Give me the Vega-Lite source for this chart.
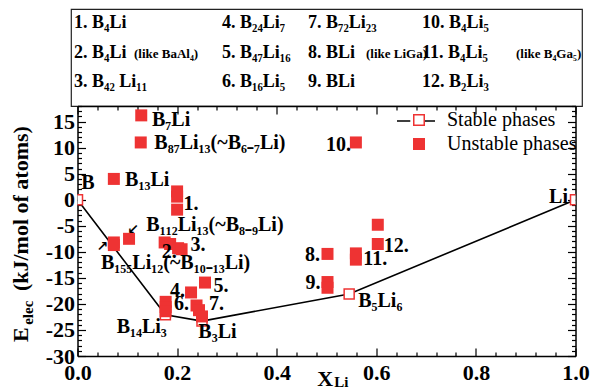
{
  "$schema": "https://vega.github.io/schema/vega-lite/v6.json",
  "padding": {"left": 10, "top": 8, "right": 5, "bottom": 0},
  "background": "white",
  "config": {"font": "Liberation Serif"},
  "datasets": {
    "stable": [
      {"x": 0, "y": 0, "name": "B"},
      {"x": 0.1765, "y": -22.1, "name": "B14Li3"},
      {"x": 0.25, "y": -23.3, "name": "B3Li"},
      {"x": 0.5455, "y": -18.1, "name": "B5Li6"},
      {"x": 1, "y": 0, "name": "Li"}
    ],
    "unstable": [
      {"x": 0.128, "y": 16.2, "id": "B7Li"},
      {"x": 0.127, "y": 11.0, "id": "B87Li13"},
      {"x": 0.073, "y": 4.0, "id": "B13Li"},
      {"x": 0.2, "y": 1.6, "id": "1"},
      {"x": 0.2, "y": 0.6, "id": "1"},
      {"x": 0.2, "y": -1.9, "id": "1"},
      {"x": 0.1035, "y": -7.5, "id": "B112Li13"},
      {"x": 0.073, "y": -8.2, "id": "B155Li12"},
      {"x": 0.073, "y": -8.7, "id": "B155Li12"},
      {"x": 0.175, "y": -8.2, "id": "2"},
      {"x": 0.186, "y": -8.5, "id": "2"},
      {"x": 0.202, "y": -9.3, "id": "3"},
      {"x": 0.209, "y": -9.5, "id": "3"},
      {"x": 0.177, "y": -19.6, "id": "B14Li3"},
      {"x": 0.177, "y": -20.6, "id": "B14Li3"},
      {"x": 0.177, "y": -21.4, "id": "B14Li3"},
      {"x": 0.228, "y": -17.8, "id": "4"},
      {"x": 0.256, "y": -15.9, "id": "5"},
      {"x": 0.239, "y": -20.3, "id": "6"},
      {"x": 0.244, "y": -21.2, "id": "7"},
      {"x": 0.25, "y": -22.4, "id": "B3Li"},
      {"x": 0.502, "y": -10.4, "id": "8"},
      {"x": 0.502, "y": -15.8, "id": "9"},
      {"x": 0.502, "y": -16.9, "id": "9"},
      {"x": 0.559, "y": 11.0, "id": "10"},
      {"x": 0.559, "y": -10.3, "id": "11"},
      {"x": 0.559, "y": -11.5, "id": "11"},
      {"x": 0.603, "y": -4.8, "id": "12"},
      {"x": 0.603, "y": -8.5, "id": "12"}
    ],
    "labels": [
      {"t": "B", "x": 0.021, "y": 3.3},
      {"t": "B₇Li", "x": 0.188, "y": 15.4},
      {"t": "B₈₇Li₁₃(~B₆₋₇Li)", "x": 0.286, "y": 10.9},
      {"t": "B₁₃Li", "x": 0.14, "y": 3.85},
      {"t": "1.", "x": 0.228, "y": -0.8},
      {"t": "B₁₁₂Li₁₃(~B₈₋₉Li)", "x": 0.276, "y": -4.8},
      {"t": "2.", "x": 0.184, "y": -10.0},
      {"t": "3.", "x": 0.242, "y": -8.65},
      {"t": "B₁₅₅Li₁₂(~B₁₀₋₁₃Li)", "x": 0.197, "y": -12.2},
      {"t": "4.", "x": 0.2006, "y": -17.5},
      {"t": "5.", "x": 0.288, "y": -16.5},
      {"t": "6.", "x": 0.209, "y": -20.0},
      {"t": "7.", "x": 0.279, "y": -20.0},
      {"t": "B₁₄Li₃", "x": 0.129, "y": -24.4},
      {"t": "B₃Li", "x": 0.281, "y": -25.4},
      {"t": "8.", "x": 0.472, "y": -10.6},
      {"t": "9.", "x": 0.473, "y": -15.9},
      {"t": "10.", "x": 0.524, "y": 10.6},
      {"t": "11.", "x": 0.598, "y": -11.4},
      {"t": "12.", "x": 0.64, "y": -8.85},
      {"t": "B₅Li₆", "x": 0.608, "y": -19.4},
      {"t": "Li", "x": 0.966, "y": 0.45}
    ],
    "arrows": [
      {"t": "↙", "x": 0.1116, "y": -5.8},
      {"t": "↗", "x": 0.05, "y": -9.0}
    ],
    "titles": [
      {"t": "(kJ/mol of atoms)", "x": -0.1126, "y": -1.7, "kind": "ymain"},
      {"t": "E", "x": -0.1126, "y": -25.9, "kind": "ymain"},
      {"t": "elec", "x": -0.0995, "y": -21.7, "kind": "ysub"},
      {"t": "X", "x": 0.4975, "y": -34.4, "kind": "xmain"},
      {"t": "Li", "x": 0.5296, "y": -35.0, "kind": "xsub"}
    ],
    "box": [
      {"slot": 0, "row": 1, "t": "1. B₄Li", "kind": "main"},
      {"slot": 0, "row": 2, "t": "2. B₄Li", "kind": "main"},
      {"slot": 1, "row": 2, "t": "(like BaAl₄)", "kind": "note"},
      {"slot": 0, "row": 3, "t": "3. B₄₂ Li₁₁", "kind": "main"},
      {"slot": 2, "row": 1, "t": "4. B₂₄Li₇", "kind": "main"},
      {"slot": 2, "row": 2, "t": "5. B₄₇Li₁₆", "kind": "main"},
      {"slot": 2, "row": 3, "t": "6. B₁₆Li₅", "kind": "main"},
      {"slot": 3, "row": 1, "t": "7. B₇₂Li₂₃", "kind": "main"},
      {"slot": 3, "row": 2, "t": "8. BLi", "kind": "main"},
      {"slot": 4, "row": 2, "t": "(like LiGa)", "kind": "note"},
      {"slot": 3, "row": 3, "t": "9. BLi", "kind": "main"},
      {"slot": 5, "row": 1, "t": "10. B₄Li₅", "kind": "main"},
      {"slot": 5, "row": 2, "t": "11. B₄Li₅", "kind": "main"},
      {"slot": 6, "row": 2, "t": "(like B₄Ga₅)", "kind": "note"},
      {"slot": 5, "row": 3, "t": "12. B₂Li₃", "kind": "main"}
    ]
  },
  "vconcat": [
    {
      "width": 511,
      "height": 97,
      "view": {"stroke": "#222", "strokeWidth": 1.2},
      "data": {"name": "box"},
      "encoding": {
        "x": {"field": "slot", "type": "quantitative", "scale": {"domain": [0, 1, 2, 3, 4, 5, 6], "range": [3, 63, 151, 237, 295, 351, 445]}, "axis": null},
        "y": {"field": "row", "type": "ordinal", "scale": {"type": "point", "padding": 0.64}, "axis": null},
        "text": {"field": "t"}
      },
      "layer": [
        {"transform": [{"filter": "datum.kind === 'main'"}], "mark": {"type": "text", "align": "left", "baseline": "alphabetic", "fontSize": 18, "fontWeight": "bold", "color": "black", "font": "Liberation Serif"}},
        {"transform": [{"filter": "datum.kind === 'note'"}], "mark": {"type": "text", "align": "left", "baseline": "alphabetic", "fontSize": 13, "fontWeight": "bold", "color": "black", "font": "Liberation Serif"}}
      ]
    },
    {
      "width": 498,
      "height": 250,
      "view": {"stroke": null},
      "layer": [
        {
          "data": {"name": "stable"},
          "mark": {"type": "line", "strokeWidth": 1.6},
          "encoding": {
            "x": {"field": "x", "type": "quantitative", "scale": {"domain": [0, 1], "nice": false, "zero": false},
              "axis": {"orient": "bottom", "title": null, "grid": false, "ticks": false,
                "values": [0, 0.2, 0.4, 0.6, 0.8, 1],
                "format": ".1f",
                "domainColor": "black", "domainWidth": 1.5,
                "labelFont": "Liberation Serif", "labelFontSize": 22, "labelFontWeight": "bold", "labelColor": "black",
                "labelPadding": 6, "labelOverlap": false, "labelFlush": false, "labelBound": false}},
            "y": {"field": "y", "type": "quantitative", "scale": {"domain": [-30, 18], "nice": false, "zero": false},
              "axis": {"orient": "left", "title": null, "grid": false, "ticks": false,
                "values": [-30, -25, -20, -15, -10, -5, 0, 5, 10, 15],
                "labelExpr": "'' + datum.value",
                "domainColor": "black", "domainWidth": 1.5,
                "labelFont": "Liberation Serif", "labelFontSize": 22, "labelFontWeight": "bold", "labelColor": "black",
                "labelPadding": 3, "labelOverlap": false, "labelBound": false}},
            "stroke": {"datum": "Stable phases", "scale": {"range": ["black"]},
              "legend": {"orient": "none", "legendX": 325, "legendY": 92, "title": null, "padding": 0,
                "symbolType": "M-1,0H-0.3M0.3,0H1", "symbolSize": 1444, "symbolStrokeWidth": 1.5, "symbolStrokeColor": "black",
                "labelExpr": "''", "labelFontSize": 1}}
          }
        },
        {
          "data": {"name": "stable"},
          "mark": {"type": "point", "shape": "square", "filled": true, "size": 100, "stroke": "#EE3333", "strokeWidth": 1.5, "opacity": 1, "clip": true},
          "encoding": {
            "x": {"field": "x", "type": "quantitative",
              "axis": {"orient": "bottom", "title": null, "grid": false, "labels": false, "domain": false,
                "values": [0, 0.04, 0.08, 0.12, 0.16, 0.2, 0.24, 0.28, 0.32, 0.36, 0.4, 0.44, 0.48, 0.52, 0.56, 0.6, 0.64, 0.68, 0.72, 0.76, 0.8, 0.84, 0.88, 0.92, 0.96, 1],
                "tickSize": {"condition": {"test": "abs(datum.value*5-round(datum.value*5)) < 0.001", "value": -8}, "value": -4},
                "tickColor": "black", "tickWidth": 1.2}},
            "y": {"field": "y", "type": "quantitative",
              "axis": {"orient": "left", "title": null, "grid": false, "labels": false, "domain": false,
                "values": [-30, -29, -28, -27, -26, -25, -24, -23, -22, -21, -20, -19, -18, -17, -16, -15, -14, -13, -12, -11, -10, -9, -8, -7, -6, -5, -4, -3, -2, -1, 0, 1, 2, 3, 4, 5, 6, 7, 8, 9, 10, 11, 12, 13, 14, 15, 16, 17, 18],
                "tickSize": {"condition": {"test": "datum.value % 5 === 0", "value": -8}, "value": -4},
                "tickColor": "black", "tickWidth": 1.2}},
            "fill": {"datum": "Stable phases", "scale": {"domain": ["Stable phases", "Unstable phases"], "range": ["white", "#EE3333"]},
              "legend": {"orient": "none", "legendX": 338, "legendY": 101, "title": null, "padding": 0,
                "symbolType": "square", "symbolSize": 110, "symbolStrokeColor": "#EE3333", "symbolStrokeWidth": 1.5,
                "labelFont": "Liberation Serif", "labelFontSize": 20, "labelColor": "black", "labelOffset": 18, "rowPadding": 4}}
          }
        },
        {
          "data": {"name": "unstable"},
          "mark": {"type": "point", "shape": "square", "filled": true, "size": 144, "strokeWidth": 0, "opacity": 1},
          "encoding": {
            "x": {"field": "x", "type": "quantitative",
              "axis": {"orient": "top", "title": null, "grid": false, "labels": false,
                "values": [0, 0.04, 0.08, 0.12, 0.16, 0.2, 0.24, 0.28, 0.32, 0.36, 0.4, 0.44, 0.48, 0.52, 0.56, 0.6, 0.64, 0.68, 0.72, 0.76, 0.8, 0.84, 0.88, 0.92, 0.96, 1],
                "tickSize": {"condition": {"test": "abs(datum.value*5-round(datum.value*5)) < 0.001", "value": -8}, "value": -4},
                "tickColor": "black", "tickWidth": 1.2, "domainColor": "black", "domainWidth": 1.5}},
            "y": {"field": "y", "type": "quantitative",
              "axis": {"orient": "right", "title": null, "grid": false, "labels": false,
                "values": [-30, -29, -28, -27, -26, -25, -24, -23, -22, -21, -20, -19, -18, -17, -16, -15, -14, -13, -12, -11, -10, -9, -8, -7, -6, -5, -4, -3, -2, -1, 0, 1, 2, 3, 4, 5, 6, 7, 8, 9, 10, 11, 12, 13, 14, 15, 16, 17, 18],
                "tickSize": {"condition": {"test": "datum.value % 5 === 0", "value": -8}, "value": -4},
                "tickColor": "black", "tickWidth": 1.2, "domainColor": "black", "domainWidth": 1.5}},
            "fill": {"datum": "Unstable phases"}
          }
        },
        {
          "data": {"name": "labels"},
          "mark": {"type": "text", "align": "center", "baseline": "middle", "fontSize": 20, "fontWeight": "bold", "color": "black", "font": "Liberation Serif"},
          "encoding": {
            "x": {"field": "x", "type": "quantitative", "axis": null},
            "y": {"field": "y", "type": "quantitative", "axis": null},
            "text": {"field": "t"}
          }
        },
        {
          "data": {"name": "arrows"},
          "mark": {"type": "text", "align": "center", "baseline": "middle", "fontSize": 14, "fontWeight": "bold", "color": "black", "font": "DejaVu Sans"},
          "encoding": {
            "x": {"field": "x", "type": "quantitative", "axis": null},
            "y": {"field": "y", "type": "quantitative", "axis": null},
            "text": {"field": "t"}
          }
        },
        {
          "data": {"name": "titles"},
          "transform": [{"filter": "datum.kind === 'ymain'"}],
          "mark": {"type": "text", "align": "center", "baseline": "middle", "angle": 270, "fontSize": 22, "fontWeight": "bold", "color": "black", "font": "Liberation Serif"},
          "encoding": {
            "x": {"field": "x", "type": "quantitative", "axis": null},
            "y": {"field": "y", "type": "quantitative", "axis": null},
            "text": {"field": "t"}
          }
        },
        {
          "data": {"name": "titles"},
          "transform": [{"filter": "datum.kind === 'ysub'"}],
          "mark": {"type": "text", "align": "center", "baseline": "middle", "angle": 270, "fontSize": 15, "fontWeight": "bold", "color": "black", "font": "Liberation Serif"},
          "encoding": {
            "x": {"field": "x", "type": "quantitative", "axis": null},
            "y": {"field": "y", "type": "quantitative", "axis": null},
            "text": {"field": "t"}
          }
        },
        {
          "data": {"name": "titles"},
          "transform": [{"filter": "datum.kind === 'xmain'"}],
          "mark": {"type": "text", "align": "center", "baseline": "middle", "fontSize": 22, "fontWeight": "bold", "color": "black", "font": "Liberation Serif"},
          "encoding": {
            "x": {"field": "x", "type": "quantitative", "axis": null},
            "y": {"field": "y", "type": "quantitative", "axis": null},
            "text": {"field": "t"}
          }
        },
        {
          "data": {"name": "titles"},
          "transform": [{"filter": "datum.kind === 'xsub'"}],
          "mark": {"type": "text", "align": "center", "baseline": "middle", "fontSize": 15, "fontWeight": "bold", "color": "black", "font": "Liberation Serif"},
          "encoding": {
            "x": {"field": "x", "type": "quantitative", "axis": null},
            "y": {"field": "y", "type": "quantitative", "axis": null},
            "text": {"field": "t"}
          }
        }
      ],
      "resolve": {"axis": {"x": "independent", "y": "independent"}}
    }
  ],
  "spacing": 0,
  "center": true,
  "bounds": "flush"
}
